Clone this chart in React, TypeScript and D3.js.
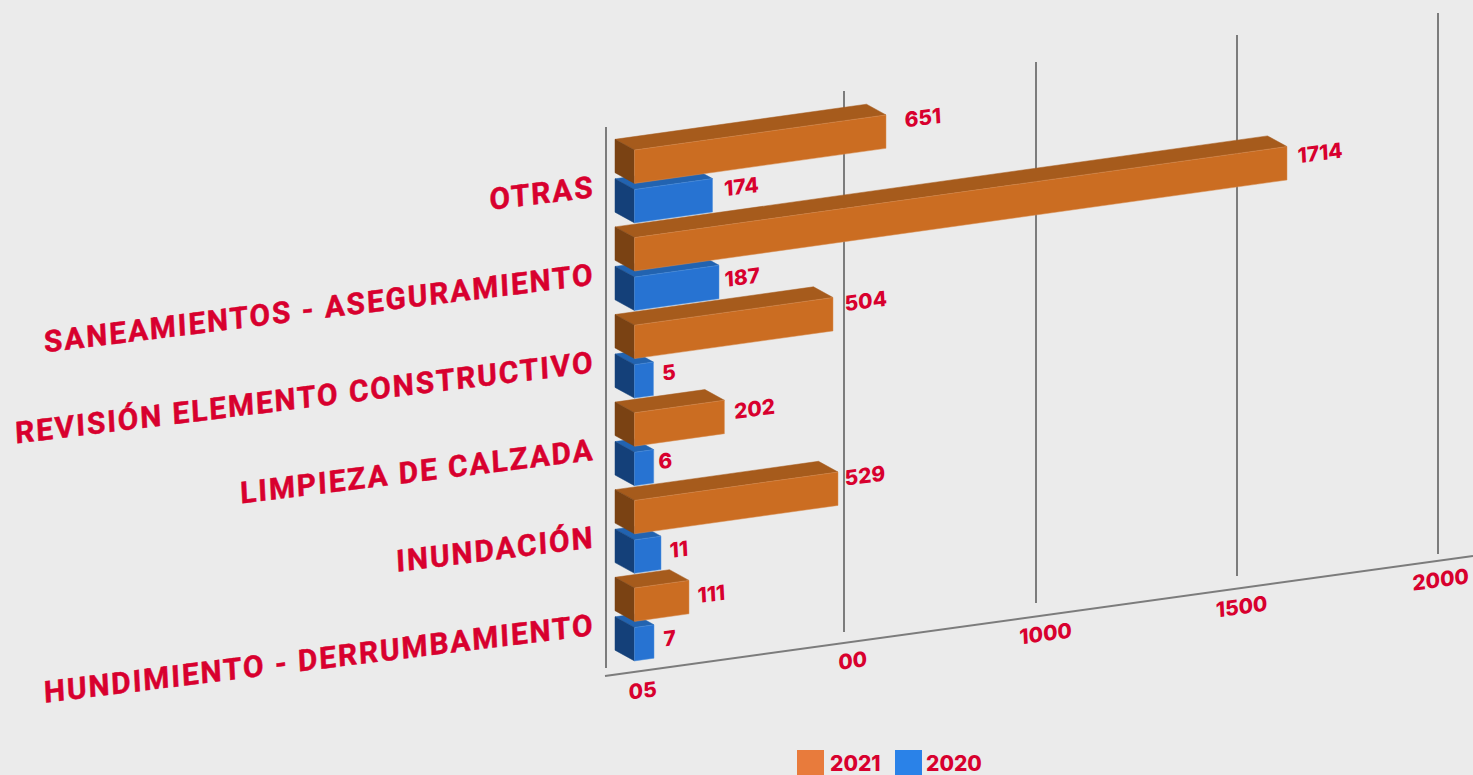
import React from "react";
import * as d3 from "d3";

const categories = ["OTRAS", "SANEAMIENTOS - ASEGURAMIENTO", "REVISIÓN ELEMENTO CONSTRUCTIVO", "LIMPIEZA DE CALZADA", "INUNDACIÓN", "HUNDIMIENTO - DERRUMBAMIENTO"];
const values2021 = [651, 1714, 504, 202, 529, 111];
const values2020 = [174, 187, 5, 6, 11, 7];
const ticks = [0, 500, 1000, 1500, 2000];
const tickLabels = ["05", "00", "1000", "1500", "2000"];

// label nudges relative to the bar end (layout only)
const nudge2021 = [[19, -11], [11, -7], [12, -10], [10, -5], [7, -10], [9, -1]];
const nudge2020 = [[12, -6], [6, -2], [9, -5], [5, -4], [9, -2], [10, -2]];
const tickLabelPos = [[643, 691], [853, 661], [1046, 634], [1242, 607], [1441, 580]];

const W = 1473, H = 775;
const RED = "#d8002e";
const SLOPE = 0.1395;
const DX = -19.5, DY = -10.7, FACE_H = 33.4, X0 = 634.5;
const DIN = "Roboto, sans-serif";
const WIDE = "Inter, sans-serif";

const x = d3.scaleLinear().domain([0, 7, 11, 111, 174, 187, 504, 529, 651, 1714]).range([652, 654, 661, 689, 712.5, 719, 833, 838, 886, 1287]);
const gridX = d3.scaleLinear().domain(ticks).range([606, 844, 1036, 1237, 1438]);
const gridBottom = d3.scaleLinear().domain(ticks).range([668, 632, 603, 576, 554]);
const gridTop = d3.scaleLinear().domain(ticks).range([127, 91, 62, 35, 13]);
const groupY = d3.scalePoint().domain(categories).range([150, 588]);
const BLUE_OFFSET = 39.5;

const pal = {
  o: { front: "#cb6d22", top: "#a65b1c", side: "#7a4213", edge: "#d98c50" },
  b: { front: "#2773d2", top: "#2263b0", side: "#144079", edge: "#4f90dc" },
};
const pts = (a: number[][]) => a.map((p) => p.join(",")).join(" ");

function Bar({ y0, v, c }: { y0: number; v: number; c: typeof pal.o }) {
  const xe = x(v);
  const ye = y0 - SLOPE * (xe - X0);
  const fl = [X0, y0], fr = [xe, ye], br = [xe, ye + FACE_H], bl = [X0, y0 + FACE_H];
  const s = (p: number[]) => [p[0] + DX, p[1] + DY];
  return (
    <g strokeWidth={0.5} strokeLinejoin="round">
      <polygon points={pts([s(fl), s(fr), fr, fl])} fill={c.top} stroke={c.top} />
      <polygon points={pts([s(fl), fl, bl, s(bl)])} fill={c.side} stroke={c.side} />
      <polygon points={pts([fl, fr, br, bl])} fill={c.front} stroke={c.edge} />
    </g>
  );
}

const skew = (px: number, py: number, b = 0.13) => `matrix(0.99,${-b},0.05,1,${px},${py})`;

export default function App() {
  const order = d3.range(categories.length).reverse();
  return (
    <svg width={W} height={H} viewBox={`0 0 ${W} ${H}`} style={{ position: "fixed", left: 0, top: 0, background: "#ebebeb", display: "block" }}>
      {ticks.map((t) => (
        <line key={t} x1={gridX(t)} x2={gridX(t)} y1={gridTop(t)} y2={gridBottom(t)} stroke="#7c7c7c" strokeWidth={2} />
      ))}
      <line x1={605} y1={676} x2={1473} y2={556} stroke="#7c7c7c" strokeWidth={2} />
      {order.map((i) => {
        const y = groupY(categories[i])!;
        return (
          <g key={i}>
            <Bar y0={y + BLUE_OFFSET} v={values2020[i]} c={pal.b} />
            <Bar y0={y} v={values2021[i]} c={pal.o} />
          </g>
        );
      })}
      {categories.map((c, i) => {
        const y = groupY(c)!;
        const lab = (v: number, y0: number, n: number[], k: string) => {
          const xe = x(v);
          const ye = y0 - SLOPE * (xe - X0) + FACE_H / 2;
          return (
            <text key={k} transform={skew(xe + n[0], ye + n[1] + 7)} fontFamily={WIDE} fontWeight={800} fontSize={21} fill={RED}>
              {v}
            </text>
          );
        };
        return (
          <g key={c}>
            <text transform={skew(595, y + 47, 0.122)} textAnchor="end" fontFamily={DIN} fontWeight={700} fontSize={30} letterSpacing={2} fill={RED} stroke={RED} strokeWidth={0.5}>
              {c}
            </text>
            {lab(values2021[i], y, nudge2021[i], "o")}
            {lab(values2020[i], y + BLUE_OFFSET, nudge2020[i], "b")}
          </g>
        );
      })}
      {ticks.map((t, i) => (
        <text key={t} transform={skew(tickLabelPos[i][0], tickLabelPos[i][1] + 7)} textAnchor="middle" fontFamily={WIDE} fontWeight={800} fontSize={21} fill={RED}>
          {tickLabels[i]}
        </text>
      ))}
      <rect x={797} y={750} width={27} height={25} fill="#e87b3c" />
      <text x={830} y={771} fontFamily={WIDE} fontWeight={800} fontSize={21} fill={RED}>2021</text>
      <rect x={895} y={750} width={27} height={25} fill="#2a82e8" />
      <text x={926} y={771} fontFamily={WIDE} fontWeight={800} fontSize={21} fill={RED}>2020</text>
    </svg>
  );
}
